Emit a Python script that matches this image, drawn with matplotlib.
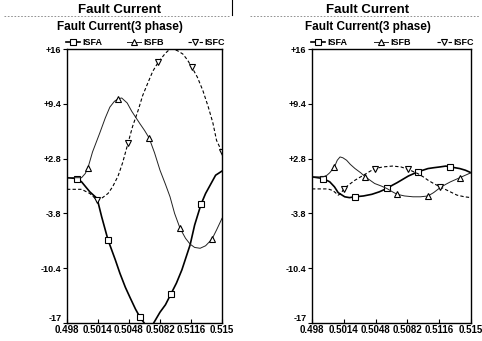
import matplotlib.pyplot as plt
from matplotlib.lines import Line2D

plt.rcParams['font.family'] = ['Liberation Sans', 'DejaVu Sans']

# left window: fault current of the 3 phases (kA)
t_a1 = [0.4980, 0.4991, 0.4996, 0.5005, 0.5013, 0.5018, 0.5025, 0.5033, 0.5038, 0.5044, 0.5049,
        0.5055, 0.5060, 0.5068, 0.5074, 0.5082, 0.5088, 0.5094, 0.5100, 0.5106, 0.5115,
        0.5120, 0.5127, 0.5132, 0.5137, 0.5143, 0.5150]
isfa1 = [0.5, 0.4, 0.0, -1.2, -2.0, -4.2, -7.0, -9.4, -11.0, -12.7, -13.9,
         -15.3, -16.3, -17.5, -17.2, -15.7, -14.8, -13.5, -12.2, -10.6, -7.6,
         -5.2, -2.7, -1.4, -0.4, 0.8, 1.3]
mk_a1 = [1, 6, 12, 17, 22]

t_b1 = [0.4980, 0.4996, 0.5000, 0.5003, 0.5008, 0.5016, 0.5022, 0.5027, 0.5032, 0.5036, 0.5040,
        0.5046, 0.5051, 0.5060, 0.5065, 0.5070, 0.5076, 0.5082, 0.5088, 0.5093, 0.5098,
        0.5104, 0.5110, 0.5115, 0.5120, 0.5126, 0.5132, 0.5139, 0.5144, 0.5150]
isfb1 = [0.5, 0.5, 1.0, 1.7, 3.6, 5.9, 7.7, 9.0, 9.7, 10.0, 10.1,
         9.5, 8.5, 7.0, 6.2, 5.3, 3.5, 1.4, -0.3, -1.8, -3.8,
         -5.6, -6.8, -7.5, -7.9, -8.0, -7.7, -6.9, -5.8, -4.4]
mk_b1 = [3, 9, 15, 21, 27]

t_c1 = [0.4980, 0.4996, 0.5005, 0.5013, 0.5019, 0.5025, 0.5030, 0.5036, 0.5041, 0.5047, 0.5052,
        0.5058, 0.5063, 0.5069, 0.5074, 0.5080, 0.5088, 0.5092, 0.5096, 0.5101, 0.5107,
        0.5112, 0.5117, 0.5123, 0.5129, 0.5135, 0.5140, 0.5144, 0.5150]
isfc1 = [-0.9, -0.9, -1.4, -2.2, -1.9, -1.4, -0.6, 0.7, 2.3, 4.7, 6.7,
         8.6, 10.4, 12.0, 13.3, 14.4, 15.5, 15.9, 16.0, 15.8, 15.4,
         14.7, 13.8, 12.6, 11.0, 9.0, 7.1, 5.0, 3.6]
mk_c1 = [3, 9, 15, 22, 28]

# right window
t_a2 = [0.4980, 0.4992, 0.4999, 0.5004, 0.5008, 0.5015, 0.5020, 0.5026, 0.5035, 0.5044, 0.5052,
        0.5060, 0.5066, 0.5071, 0.5077, 0.5083, 0.5093, 0.5104, 0.5110, 0.5117, 0.5123,
        0.5128, 0.5133, 0.5138, 0.5144, 0.5150]
isfa2 = [0.6, 0.4, 0.0, -0.6, -1.3, -1.8, -1.9, -1.8, -1.7, -1.5, -1.2,
         -0.8, -0.4, -0.1, 0.3, 0.7, 1.2, 1.6, 1.7, 1.8, 1.9,
         1.8, 1.7, 1.6, 1.4, 1.1]
mk_a2 = [1, 7, 11, 16, 21]

t_b2 = [0.4980, 0.4992, 0.4996, 0.4999, 0.5004, 0.5007, 0.5010, 0.5013, 0.5017, 0.5021, 0.5026,
        0.5032, 0.5037, 0.5042, 0.5047, 0.5054, 0.5060, 0.5066, 0.5071, 0.5079, 0.5088,
        0.5096, 0.5104, 0.5110, 0.5117, 0.5123, 0.5128, 0.5138, 0.5144, 0.5150]
isfb2 = [0.6, 0.6, 0.8, 1.1, 1.8, 2.6, 3.0, 2.9, 2.6, 2.1, 1.6,
         1.1, 0.6, 0.2, -0.2, -0.5, -0.8, -1.2, -1.5, -1.7, -1.8,
         -1.8, -1.7, -1.3, -0.7, -0.3, 0.0, 0.5, 0.8, 1.1]
mk_b2 = [4, 12, 18, 22, 27]

t_c2 = [0.4980, 0.4997, 0.5001, 0.5004, 0.5008, 0.5011, 0.5014, 0.5020, 0.5026, 0.5035, 0.5041,
        0.5047, 0.5056, 0.5066, 0.5075, 0.5083, 0.5093, 0.5099, 0.5104, 0.5110, 0.5117,
        0.5126, 0.5135, 0.5143, 0.5150]
isfc2 = [-0.85, -0.85, -1.0, -1.2, -1.6, -1.4, -0.85, -0.3, 0.2, 0.8, 1.2,
         1.6, 1.8, 1.9, 1.8, 1.5, 1.0, 0.6, 0.2, -0.2, -0.6,
         -1.1, -1.6, -1.8, -1.9]
mk_c2 = [6, 11, 15, 20]

xticks = [0.498, 0.5014, 0.5048, 0.5082, 0.5116, 0.515]
xlabels = ['0.498', '0.5014', '0.5048', '0.5082', '0.5116', '0.515']
yticks = [16, 9.4, 2.8, -3.8, -10.4, -17]
ylabels = ['+16', '+9.4', '+2.8', '-3.8', '-10.4', '-17']
names = ['ISFA', 'ISFB', 'ISFC']

W, H = 482, 341
fig = plt.figure(figsize=(W / 100, H / 100), dpi=100)
ax1 = fig.add_axes([67 / W, 1 - 323 / H, 155 / W, 274 / H])
ax2 = fig.add_axes([312 / W, 1 - 323 / H, 159 / W, 274 / H])

styles = [dict(color='black', lw=1.2, ls='-', marker='s'),
          dict(color='#222222', lw=0.7, ls='-', marker='^'),
          dict(color='black', lw=0.8, ls=(0, (3, 2)), marker='v')]

panels = [
    (ax1, [(t_a1, isfa1, mk_a1), (t_b1, isfb1, mk_b1), (t_c1, isfc1, mk_c1)]),
    (ax2, [(t_a2, isfa2, mk_a2), (t_b2, isfb2, mk_b2), (t_c2, isfc2, mk_c2)]),
]

for ax, series in panels:
    for (t, v, mk), st in zip(series, styles):
        ax.plot(t, v, markevery=mk, ms=4.5, mfc='white', mec='black', mew=0.8, **st)
    ax.set_xlim(0.498, 0.515)
    ax.set_ylim(-17, 16)
    ax.set_xticks(xticks)
    ax.set_xticklabels(xlabels, fontsize=7, fontweight='bold')
    ax.set_yticks(yticks)
    ax.set_yticklabels(ylabels, fontsize=6.5, fontweight='bold')
    ax.get_yticklabels()[-1].set_va('bottom')
    ax.tick_params(axis='x', direction='in', length=3, pad=1.5)
    ax.tick_params(axis='y', direction='out', length=3, pad=1)
    for sp in ax.spines.values():
        sp.set_linewidth(1.0)
    handles = [Line2D([], [], ms=4, mfc='white', mec='black', mew=0.8, **st) for st in styles]
    ax.legend(handles, names, loc='lower left', bbox_to_anchor=(-0.02, 1.0, 1.05, 0.05),
              ncol=3, mode='expand', frameon=False, fontsize=6.5, handlelength=1.6,
              handletextpad=0.2, borderaxespad=0.1, borderpad=0.1, columnspacing=0.5,
              prop=dict(weight='bold', size=6.5))

# window headers
for cx, x0, x1 in [(120, 4, 230), (368, 250, 480)]:
    fig.text(cx / W, 1 - 10 / H, 'Fault Current', ha='center', va='center', fontsize=9.5,
             fontweight='bold')
    fig.text(cx / W, 1 - 27 / H, 'Fault Current(3 phase)', ha='center', va='center',
             fontsize=8.5, fontweight='bold')
    fig.add_artist(Line2D([x0 / W, x1 / W], [1 - 16 / H, 1 - 16 / H], color='gray',
                          lw=0.6, ls=(0, (2, 2))))
fig.add_artist(Line2D([232 / W, 232 / W], [1, 1 - 15 / H], color='black', lw=0.8))

fig.savefig('out.png', dpi=100)
